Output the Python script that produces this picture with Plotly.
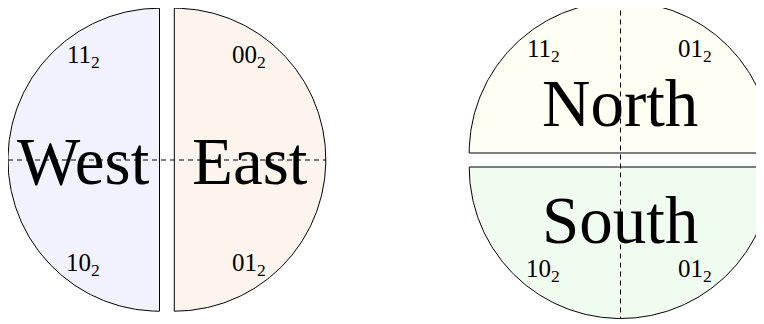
"""Two split circles: West/East halves and North/South halves with binary codes."""

import numpy as np
import plotly.graph_objects as go

# Regions, their fill colours and the two binary codes in each half
regions = ["West", "East", "North", "South"]
fills = ["#f2f2ff", "#fdf4ee", "#fefef3", "#f1fcf1"]
codes_first = ["11", "00", "11", "10"]
codes_second = ["10", "01", "01", "01"]

# Geometry (page pixel units, y grows downwards)
R = 151.5
# centre x, centre y, start angle, end angle (degrees, maths convention)
halves = {
    "West": (159.5, 159.7, 90, 270),
    "East": (174.3, 159.7, -90, 90),
    "North": (620.7, 153.0, 0, 180),
    "South": (620.7, 167.0, 180, 360),
}
# big label centre, first code centre, second code centre
label_pos = {
    "West": ((83, 161), (83, 56), (83, 264)),
    "East": ((250, 161), (249, 56), (249, 264)),
    "North": ((620, 103), (543, 50), (695, 50)),
    "South": ((620, 220), (543, 270), (695, 270)),
}

fig = go.Figure()

for name, fill in zip(regions, fills):
    cx, cy, a0, a1 = halves[name]
    t = np.radians(np.linspace(a0, a1, 200))
    xs = cx + R * np.cos(t)
    ys = cy - R * np.sin(t)
    xs = np.append(xs, xs[0])
    ys = np.append(ys, ys[0])
    fig.add_trace(go.Scatter(
        x=xs, y=ys, mode="lines", fill="toself", fillcolor=fill,
        line=dict(color="black", width=1), hoverinfo="skip", showlegend=False,
    ))

# dashed axes through each circle
fig.add_trace(go.Scatter(
    x=[8, 326], y=[160, 160], mode="lines",
    line=dict(color="black", width=1, dash="5px,4px"),
    hoverinfo="skip", showlegend=False,
))
fig.add_trace(go.Scatter(
    x=[620.5, 620.5], y=[1.5, 318.5], mode="lines",
    line=dict(color="black", width=1, dash="5px,4px"),
    hoverinfo="skip", showlegend=False,
))

serif = "Liberation Serif"
for name, c1, c2 in zip(regions, codes_first, codes_second):
    big, p1, p2 = label_pos[name]
    fig.add_annotation(x=big[0], y=big[1], text=name, showarrow=False,
                       font=dict(family=serif, size=67, color="black"),
                       xanchor="center", yanchor="middle")
    for (px_, py_), code in ((p1, c1), (p2, c2)):
        fig.add_annotation(x=px_, y=py_, text=f"{code}<sub>2</sub>",
                           showarrow=False,
                           font=dict(family=serif, size=25, color="black"),
                           xanchor="center", yanchor="middle")

# the page body has an 8px margin, so the plot starts at page pixel 8
fig.update_xaxes(range=[8, 764], visible=False)
fig.update_yaxes(range=[324, 8], visible=False)
fig.update_layout(
    width=756, height=316,
    margin=dict(l=0, r=0, t=0, b=0),
    plot_bgcolor="white", paper_bgcolor="white",
)

fig.write_html("out.html")
